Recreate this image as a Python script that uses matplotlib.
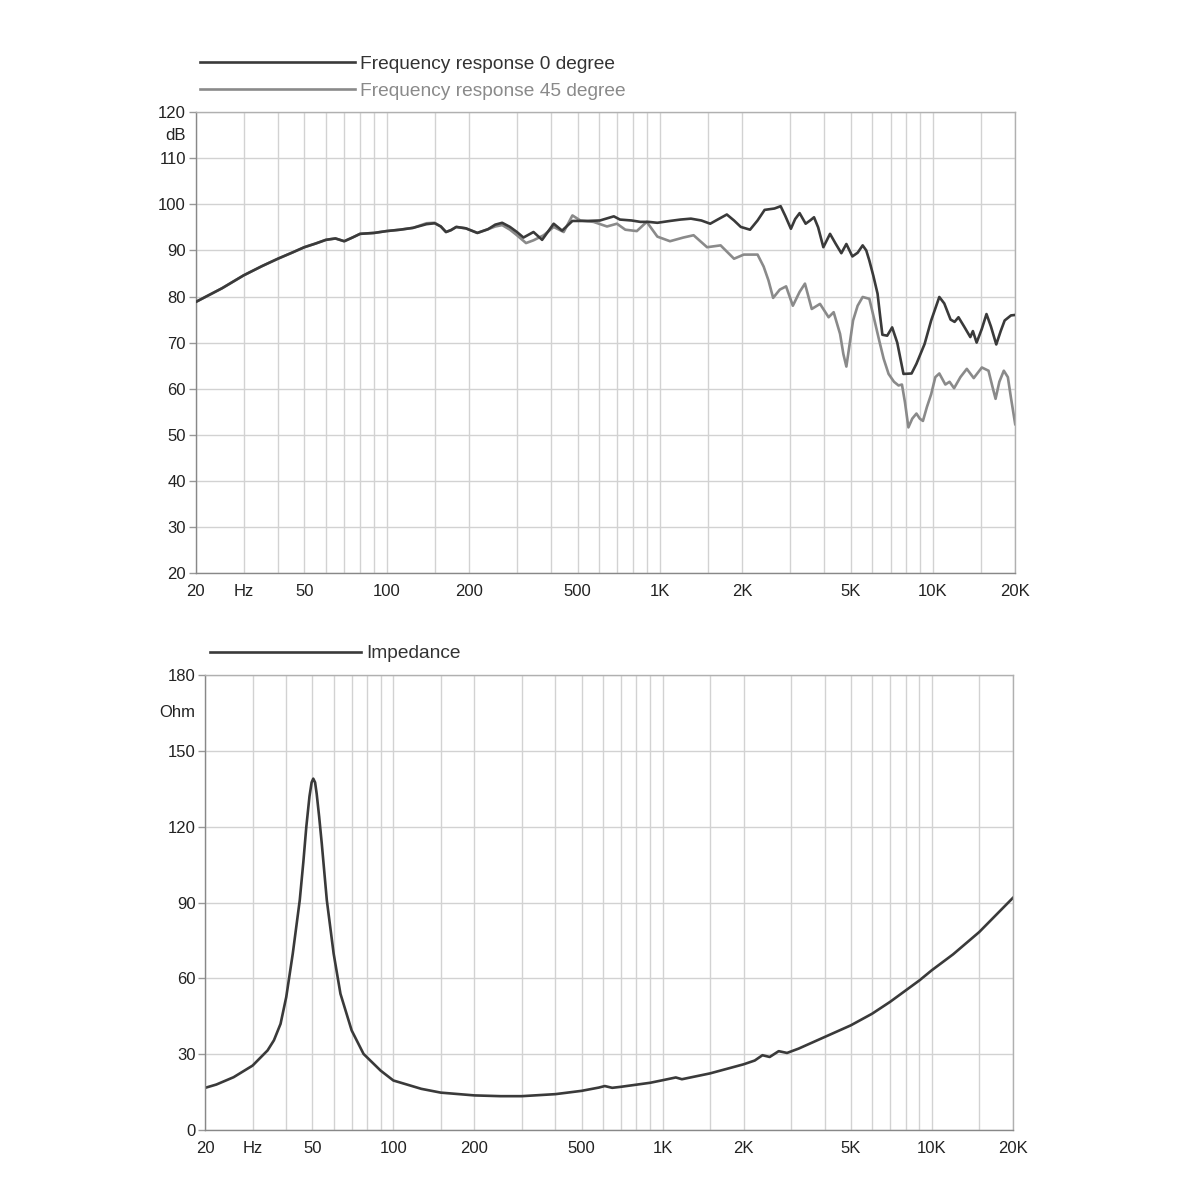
import numpy as np
import matplotlib
matplotlib.use('Agg')
import matplotlib.pyplot as plt
import matplotlib.transforms as mtransforms

plt.rcParams['font.family'] = ['Liberation Sans', 'DejaVu Sans']

# frequency response, 0 degree (Hz, dB)
f0 = [20, 25, 30, 35, 40, 45, 50, 55, 60, 65, 70, 75, 80, 90, 100, 112, 125, 140, 150, 158,
      165, 172, 180, 195, 215, 235, 250, 265, 283, 300, 317, 345, 371, 409, 439, 479, 543, 604,
      679, 715, 789, 849, 910, 980, 1090, 1190, 1300, 1420, 1530, 1640, 1760, 1870, 1980, 2140,
      2280, 2420, 2630, 2770, 2880, 3020, 3130, 3250, 3420, 3550, 3670, 3800, 3970, 4200, 4400,
      4620, 4820, 5070, 5300, 5530, 5700, 5850, 6050, 6270, 6400, 6530, 6800, 7090, 7400, 7800,
      8350, 8700, 9320, 9850, 10550, 11000, 11600, 12000, 12400, 13000, 13700, 14000, 14450,
      15100, 15700, 16300, 17050, 17700, 18300, 19300, 20000]
db0 = [78.8, 81.8, 84.6, 86.6, 88.2, 89.5, 90.7, 91.5, 92.3, 92.6, 92.0, 92.8, 93.6, 93.8, 94.2,
       94.5, 94.9, 95.7, 95.9, 95.2, 94.0, 94.4, 95.1, 94.8, 93.8, 94.6, 95.6, 96.0, 95.1, 94.0,
       92.8, 94.0, 92.3, 95.8, 94.3, 96.4, 96.4, 96.5, 97.4, 96.7, 96.5, 96.2, 96.2, 96.0, 96.4,
       96.7, 96.9, 96.5, 95.8, 96.8, 97.8, 96.5, 95.1, 94.5, 96.5, 98.8, 99.1, 99.6, 97.5, 94.7,
       96.8, 98.1, 95.8, 96.5, 97.2, 95.0, 90.7, 93.6, 91.5, 89.4, 91.4, 88.7, 89.5, 91.1, 90.0,
       87.8, 84.5, 80.6, 76.0, 71.7, 71.5, 73.3, 70.0, 63.2, 63.3, 65.4, 69.7, 74.8, 79.9, 78.5,
       75.0, 74.5, 75.5, 73.5, 71.2, 72.5, 70.0, 73.0, 76.2, 73.5, 69.6, 72.5, 74.8, 75.9, 76.0]

# frequency response, 45 degree (Hz, dB)
f45 = [20, 25, 30, 35, 40, 45, 50, 55, 60, 65, 70, 75, 80, 90, 100, 112, 125, 140, 150, 158,
       165, 172, 180, 195, 215, 235, 250, 265, 283, 300, 324, 345, 376, 409, 445, 479, 512, 572,
       641, 697, 748, 824, 896, 980, 1090, 1220, 1330, 1490, 1670, 1870, 2030, 2280, 2400, 2500,
       2600, 2750, 2900, 3070, 3250, 3400, 3600, 3860, 4150, 4330, 4570, 4700, 4820, 4950, 5100,
       5300, 5530, 5850, 6100, 6360, 6600, 6880, 7200, 7480, 7700, 7900, 8130, 8400, 8700, 8950,
       9190, 9500, 9850, 10200, 10550, 11100, 11500, 11950, 12600, 13300, 14100, 15100, 15970,
       16500, 16950, 17500, 18170, 18800, 19300, 20000]
db45 = [78.8, 81.8, 84.6, 86.6, 88.2, 89.5, 90.7, 91.5, 92.3, 92.6, 92.0, 92.8, 93.6, 93.8, 94.2,
        94.5, 94.9, 95.9, 96.0, 95.2, 94.0, 94.4, 95.1, 94.8, 93.8, 94.6, 95.2, 95.5, 94.5, 93.3,
        91.6, 92.2, 93.3, 95.1, 94.0, 97.6, 96.5, 96.2, 95.2, 95.8, 94.5, 94.2, 96.2, 93.0, 92.0,
        92.8, 93.3, 90.7, 91.1, 88.2, 89.1, 89.1, 86.5, 83.5, 79.7, 81.5, 82.2, 78.0, 81.0, 82.8,
        77.3, 78.4, 75.5, 76.6, 71.9, 67.5, 64.8, 69.5, 74.8, 78.0, 79.9, 79.5, 75.0, 70.4, 66.5,
        63.2, 61.5, 60.7, 60.9, 57.0, 51.6, 53.5, 54.6, 53.5, 53.0, 56.0, 58.8, 62.5, 63.3, 60.9,
        61.5, 60.1, 62.5, 64.3, 62.3, 64.6, 63.9, 60.5, 57.8, 61.5, 63.9, 62.5, 58.0, 52.3]

# impedance (Hz, Ohm)
fz = [20, 22, 25.5, 30, 34.1, 36, 38.1, 40, 42.3, 44.9, 46.3, 47.5, 48.8, 49.7, 50.4, 51.2, 51.9,
      53.0, 54.2, 56.6, 60, 63.6, 70, 77.5, 89.7, 100, 127, 150, 200, 250, 300, 400, 500, 580,
      610, 650, 700, 900, 1000, 1120, 1180, 1500, 2000, 2200, 2350, 2500, 2700, 2900, 3200, 4000,
      5000, 6000, 7000, 9000, 10000, 12000, 15000, 20000]
ohm = [16.7, 18.0, 20.9, 25.5, 31.5, 35.5, 42.0, 52.6, 69.8, 90.9, 106.0, 120.0, 132.0, 137.5,
       139.0, 137.5, 133.0, 124.0, 113.4, 90.9, 69.8, 53.9, 39.4, 30.1, 23.5, 19.6, 16.3, 14.8,
       13.7, 13.4, 13.4, 14.2, 15.5, 16.8, 17.4, 16.7, 17.1, 18.7, 19.7, 20.8, 20.1, 22.4, 26.0,
       27.5, 29.6, 28.9, 31.2, 30.5, 32.2, 36.8, 41.4, 46.0, 50.7, 59.2, 63.2, 69.5, 78.3, 91.8]

grid_f = [20, 30, 40, 50, 60, 70, 80, 90, 100, 150, 200, 300, 400, 500, 600, 700, 800, 900,
          1000, 1500, 2000, 3000, 4000, 5000, 6000, 7000, 8000, 9000, 10000, 15000, 20000]
label_f = {20: '20', 30: 'Hz', 50: '50', 100: '100', 200: '200', 500: '500', 1000: '1K',
           2000: '2K', 5000: '5K', 10000: '10K', 20000: '20K'}

DARK = '#3a3a3a'
GRAY = '#8a8a8a'
GRID = '#d2d2d2'


def style_axes(ax, yticks, unit, unit_y):
    ax.set_xscale('log')
    ax.set_xlim(20, 20000)
    ax.set_xticks(grid_f)
    ax.set_xticklabels([label_f.get(f, '') for f in grid_f])
    ax.xaxis.set_minor_locator(matplotlib.ticker.NullLocator())
    ax.set_yticks(yticks)
    ax.set_ylim(yticks[0], yticks[-1])
    ax.grid(True, color=GRID, linewidth=1.0)
    ax.set_axisbelow(True)
    ax.tick_params(axis='x', length=0, pad=8, labelsize=12, labelcolor='#222222')
    ax.tick_params(axis='y', length=5, width=1, color='#999999', pad=2, labelsize=12,
                   labelcolor='#222222')
    for s in ax.spines.values():
        s.set_color('#b0b0b0')
        s.set_linewidth(1.0)
    ax.spines['left'].set_color('#888888')
    ax.spines['bottom'].set_color('#888888')
    trans = mtransforms.blended_transform_factory(ax.transAxes, ax.transData)
    ax.text(-0.012, unit_y, unit, transform=trans, ha='right', va='center', fontsize=12,
            color='#222222')


fig = plt.figure(figsize=(12, 12), dpi=100)
ax1 = fig.add_axes([0.163, 0.5225, 0.683, 0.384])
ax2 = fig.add_axes([0.171, 0.0583, 0.673, 0.3792])

ax1.plot(f0, db0, color=DARK, lw=1.9, label='Frequency response 0 degree', zorder=3)
ax1.plot(f45, db45, color=GRAY, lw=1.9, label='Frequency response 45 degree', zorder=2)
style_axes(ax1, list(range(20, 121, 10)), 'dB', 115)
leg = ax1.legend(loc='lower left', bbox_to_anchor=(0.005, 1.027), frameon=False, fontsize=13.8,
                 handlelength=8.1, handletextpad=0.27, labelspacing=0.5, borderaxespad=0,
                 borderpad=0)
for t, c in zip(leg.get_texts(), ['#333333', GRAY]):
    t.set_color(c)

ax2.plot(fz, ohm, color=DARK, lw=1.9, label='Impedance')
style_axes(ax2, list(range(0, 181, 30)), 'Ohm', 165)
leg2 = ax2.legend(loc='lower left', bbox_to_anchor=(0.006, 1.028), frameon=False, fontsize=13.8,
                  handlelength=7.9, handletextpad=0.27, borderaxespad=0, borderpad=0)
leg2.get_texts()[0].set_color('#333333')

fig.savefig('out.png', dpi=100, facecolor='white')
